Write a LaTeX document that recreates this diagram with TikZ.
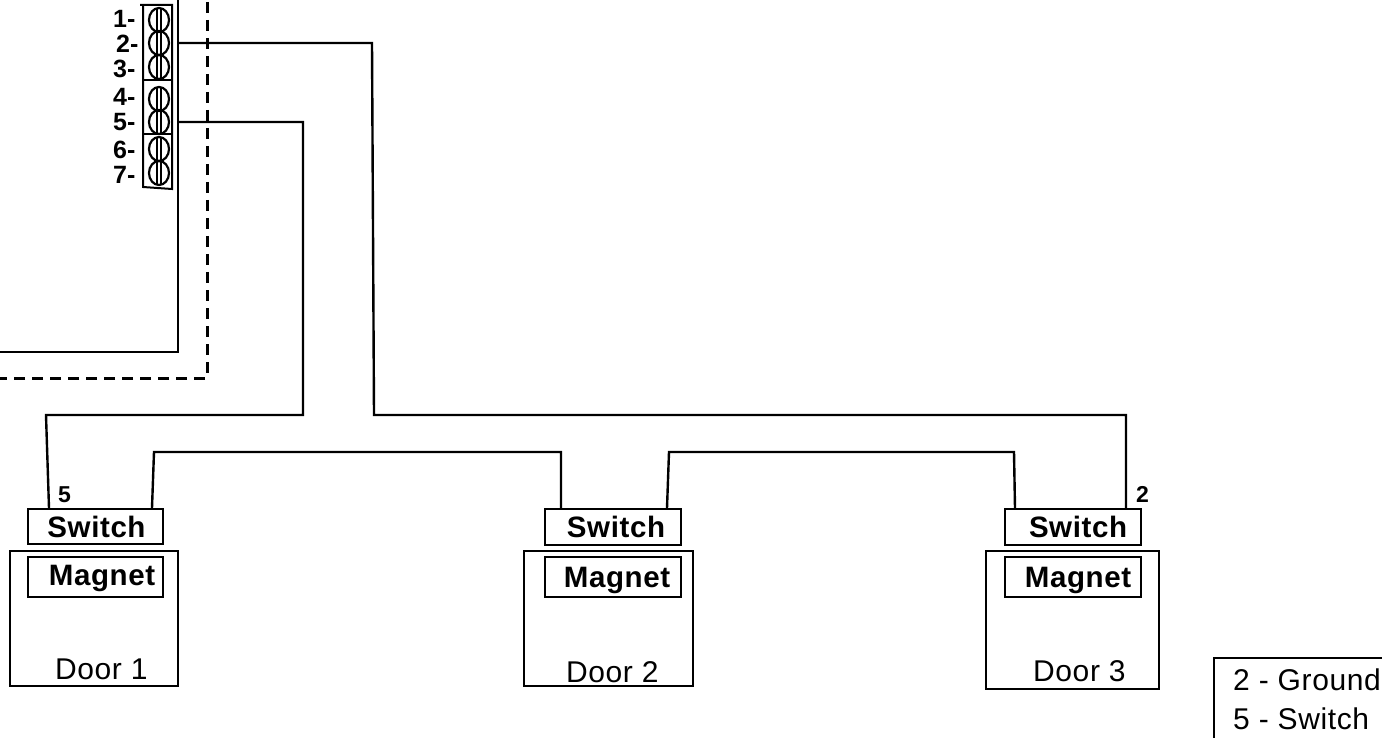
\documentclass[tikz,border=0pt]{standalone}
\usepackage{fontspec}
\setmainfont{Liberation Sans}
\newcommand{\fs}[1]{\fontsize{#1}{#1}\selectfont}
\tikzset{
  x=1pt,y=-1pt,
  wire/.style={line width=2.4pt,line join=miter},
  box/.style={draw,line width=2.4pt,minimum height=0pt,inner sep=0pt,rectangle},
  sw/.style={font=\fs{29.5}\bfseries\addfontfeature{LetterSpace=2},inner sep=0pt,anchor=base},
  plain/.style={font=\fs{30}\addfontfeature{LetterSpace=2},inner sep=0pt,anchor=base west},
  tn/.style={font=\fs{25}\bfseries,inner sep=0pt,anchor=base west},
  small/.style={font=\fs{23}\bfseries,inner sep=0pt,anchor=base west}
}
\newcommand{\BOX}[5]{\node[box,minimum width=#4pt-#2pt,minimum height=#5pt-#3pt,anchor=north west] (#1) at (#2,#3) {};}
\newcommand{\SCREW}[2]{%
  \draw[line width=2.2pt] (159,#2) ellipse [x radius=10,y radius=12];
  \draw[line width=1.8pt] (157,#2-12) -- (157,#2+12) (161,#2-12) -- (161,#2+12);
  \coordinate (#1) at (159,#2);}
\begin{document}
\begin{tikzpicture}
\useasboundingbox (0,0) rectangle (1382,738);
\clip (0,0) rectangle (1382,738);
\fill[white] (0,0) rectangle (1382,738);
% panel
\coordinate (panelTop) at (178,-2);
\coordinate (panelCorner) at (178,352);
\coordinate (panelEnd) at (-2,352);
\draw[wire,line width=2.6pt] (panelTop) -- (panelCorner) -- (panelEnd);
\coordinate (dashTop) at (207,2);
\coordinate (dashCorner) at (207,378);
\coordinate (dashEnd) at (-2,378);
\draw[wire,line width=3pt,dash pattern=on 11pt off 7pt] (dashTop) -- (dashCorner) -- (dashEnd);
% terminal block
\coordinate (tbTL) at (140,5);
\coordinate (tbTR) at (172,5);
\coordinate (tbBR) at (172,189);
\coordinate (tbBL) at (143,187);
\coordinate (tbL) at (143,5);
\draw[line width=2pt] (tbTL) -- (tbTR) -- (tbBR) -- (tbBL) -- (tbL);
\coordinate (d1L) at (143,80); \coordinate (d1R) at (172,80);
\coordinate (d2L) at (143,134); \coordinate (d2R) at (172,134);
\draw[line width=2pt] (d1L) -- (d1R) (d2L) -- (d2R);
\SCREW{s1}{20}\SCREW{s2}{43}\SCREW{s3}{67}\SCREW{s4}{99}\SCREW{s5}{122}\SCREW{s6}{149}\SCREW{s7}{173}
\node[tn] (t1) at (113,28) {1-};
\node[tn] (t2) at (116,53) {2-};
\node[tn] (t3) at (113,78) {3-};
\node[tn] (t4) at (113,106) {4-};
\node[tn] (t5) at (113,131) {5-};
\node[tn] (t6) at (113,159) {6-};
\node[tn] (t7) at (113,184) {7-};
% doors
\BOX{d1}{9}{549.5}{177}{684.5}
\BOX{sw1}{26.5}{507.5}{161.5}{543}
\BOX{m1}{26.5}{555.5}{161.5}{595.5}
\BOX{d2}{522.5}{549.5}{692}{684.5}
\BOX{sw2}{543.5}{507.5}{679.5}{543.5}
\BOX{m2}{543.5}{555.5}{679.5}{595.5}
\BOX{d3}{984.5}{549.5}{1157.5}{687.5}
\BOX{sw3}{1003.5}{507.5}{1139.5}{543.5}
\BOX{m3}{1003.5}{555.5}{1139.5}{595.5}
\node[sw] (lsw1) at (96.5,537) {Switch};
\node[sw] (lm1) at (102,585) {Magnet};
\node[sw] (lsw2) at (616,537) {Switch};
\node[sw] (lm2) at (617,587) {Magnet};
\node[sw] (lsw3) at (1078,537) {Switch};
\node[sw] (lm3) at (1078,587) {Magnet};
\node[plain] (ld1) at (55,679) {Door 1};
\node[plain] (ld2) at (566,682) {Door 2};
\node[plain] (ld3) at (1033,681) {Door 3};
\node[small] (n5) at (58,502) {5};
\node[small] (n2) at (1136,502) {2};
% wires
\coordinate (w2a) at (178,43); \coordinate (w2b) at (372,43); \coordinate (w2c) at (374,415);
\coordinate (w2d) at (1126,415); \coordinate (w2e) at (1126,508);
\draw[wire] (w2a) -- (w2b) -- (w2c) -- (w2d) -- (w2e);
\coordinate (w5a) at (178,122); \coordinate (w5b) at (303,122); \coordinate (w5c) at (303,415);
\coordinate (w5d) at (46,415); \coordinate (w5e) at (49,508);
\draw[wire] (w5a) -- (w5b) -- (w5c) -- (w5d) -- (w5e);
\coordinate (a1) at (152,508); \coordinate (a2) at (154,452); \coordinate (a3) at (561,452); \coordinate (a4) at (561,508);
\draw[wire] (a1) -- (a2) -- (a3) -- (a4);
\coordinate (b1) at (667,508); \coordinate (b2) at (669,452); \coordinate (b3) at (1014,452); \coordinate (b4) at (1015,508);
\draw[wire] (b1) -- (b2) -- (b3) -- (b4);
% legend
\BOX{leg}{1212.5}{656.5}{1400}{760}
\node[plain] (l1) at (1233,690) {2 - Ground};
\node[plain] (l2) at (1233,729) {5 - Switch};
\end{tikzpicture}
\end{document}
